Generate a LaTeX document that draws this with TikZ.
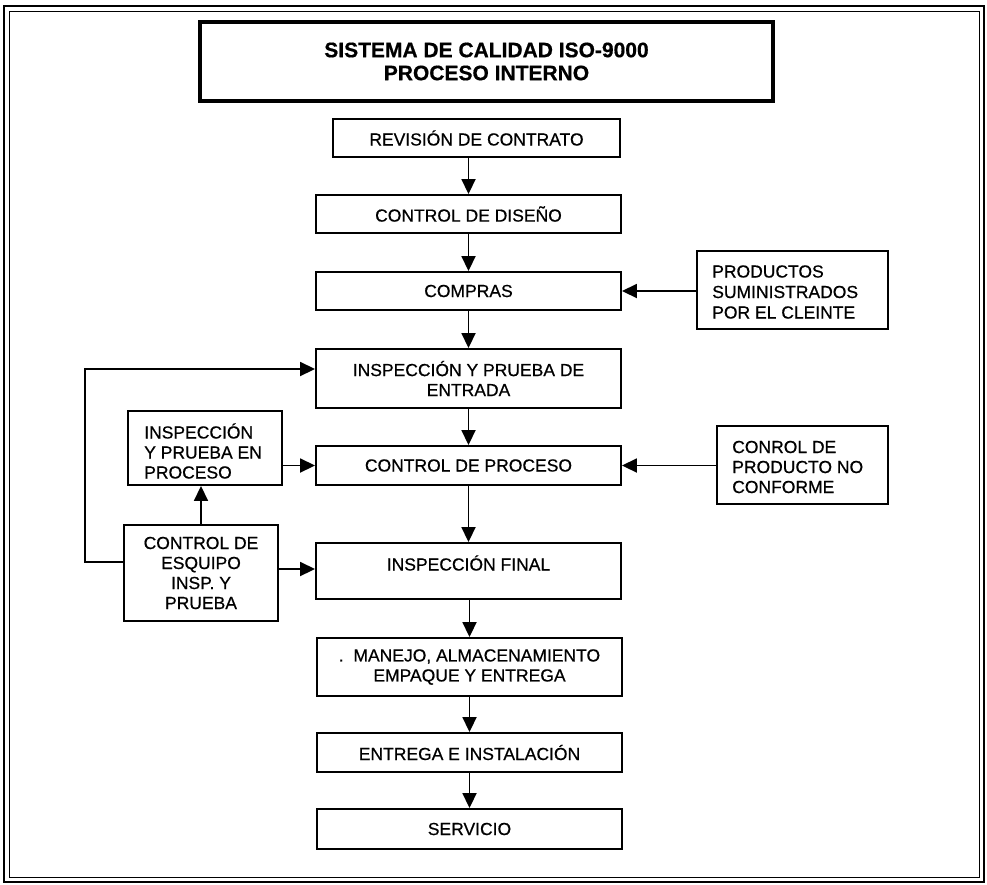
\documentclass[tikz,border=0pt]{standalone}
\usepackage{fontspec}
\setmainfont{Liberation Sans}[FakeBold=0.6]
\newfontfamily\boxfont{Liberation Sans}[FakeBold=0.6]
\usetikzlibrary{arrows.meta,calc}
\begin{document}
\begin{tikzpicture}[x=1pt,y=-1pt,
  txt/.style={font=\boxfont\fontsize{17.5}{20}\selectfont,inner sep=0pt},
  box/.style={draw=black,line width=1.9pt,rectangle,inner sep=0pt,txt,align=center},
  arr/.style={line width=1.8pt,-{Triangle[length=15pt,width=14pt]}}]
\useasboundingbox (0,0) rectangle (987,884);
% frame
\draw[line width=2.4pt] (4,6) rectangle (984,882);
\draw[line width=0.9pt] (9,11) rectangle (979,877);
% title
\node[box,line width=3.4pt,minimum width=573pt,minimum height=79pt,font=\bfseries\fontsize{21}{23}\selectfont] (tit) at (486.5,61.5) {SISTEMA DE CALIDAD ISO-9000\\PROCESO INTERNO};
% main column
\node[box,minimum width=287pt,minimum height=38pt] (rev) at (476.5,138) {REVISIÓN DE CONTRATO};
\node[box,minimum width=305pt,minimum height=38pt] (dis) at (468.5,214) {CONTROL DE DISEÑO};
\node[box,minimum width=305pt,minimum height=38pt] (comp) at (468.5,291) {COMPRAS};
\node[box,minimum width=305pt,minimum height=59pt] (ent) at (468.5,378.5) {INSPECCIÓN Y PRUEBA DE\\ENTRADA};
\node[box,minimum width=305pt,minimum height=39pt] (proc) at (468.5,465.5) {CONTROL DE PROCESO};
\node[box,minimum width=305pt,minimum height=56pt] (fin) at (468.5,571) {};
\node[txt] (fint) at ([yshift=8pt]fin.center) {INSPECCIÓN FINAL};
\node[box,minimum width=305pt,minimum height=58pt] (man) at (469.5,667) {.\ \ MANEJO, ALMACENAMIENTO\\EMPAQUE Y ENTREGA};
\node[box,minimum width=305pt,minimum height=39pt] (ins) at (469.5,752.5) {ENTREGA E INSTALACIÓN};
\node[box,minimum width=305pt,minimum height=40pt] (ser) at (469.5,829) {SERVICIO};
% side boxes
\node[box,minimum width=191pt,minimum height=78pt] (prod) at (792.5,290) {};
\node[txt,font=\boxfont\fontsize{17.5}{20.5}\selectfont,align=left,anchor=west] (prodt) at ([xshift=16pt,yshift=-2pt]prod.west) {PRODUCTOS\\SUMINISTRADOS\\POR EL CLEINTE};
\node[box,minimum width=171pt,minimum height=78pt] (cnc) at (802.5,465) {};
\node[txt,align=left,anchor=west] (cnct) at ([xshift=16pt,yshift=-2pt]cnc.west) {CONROL DE\\PRODUCTO NO\\CONFORME};
\node[box,minimum width=154pt,minimum height=74pt] (ipp) at (205,448) {};
\node[txt,align=left,anchor=west] (ippt) at ([xshift=17pt,yshift=-3pt]ipp.west) {INSPECCIÓN\\Y PRUEBA EN\\PROCESO};
\node[box,minimum width=154pt,minimum height=96pt] (esq) at (201,573) {CONTROL DE\\ESQUIPO\\INSP. Y\\PRUEBA};
% main arrows
\draw[arr] (dis.north |- rev.south) -- (dis.north);
\draw[arr] (dis.south) -- (comp.north);
\draw[arr] (comp.south) -- (ent.north);
\draw[arr] (ent.south) -- (proc.north);
\draw[arr] (proc.south) -- (fin.north);
\draw[arr] (man.north |- fin.south) -- (man.north);
\draw[arr] (man.south) -- (ins.north);
\draw[arr] (ins.south) -- (ser.north);
% side arrows
\draw[arr] (comp.east -| prod.west) -- (comp.east);
\draw[arr] (proc.east -| cnc.west) -- (proc.east);
\draw[arr] (proc.west -| ipp.east) -- (proc.west);
\draw[arr] (esq.north) -- (esq.north |- ipp.south);
\draw[arr] ([yshift=4pt]esq.east) -- ([yshift=4pt]esq.east -| fin.west);
\coordinate (lp1) at (85,562);
\coordinate (lp2) at (85,369);
\draw[arr] (esq.west |- lp1) -- (lp1) -- (lp2) -- (lp2 -| ent.west);
\end{tikzpicture}
\end{document}
